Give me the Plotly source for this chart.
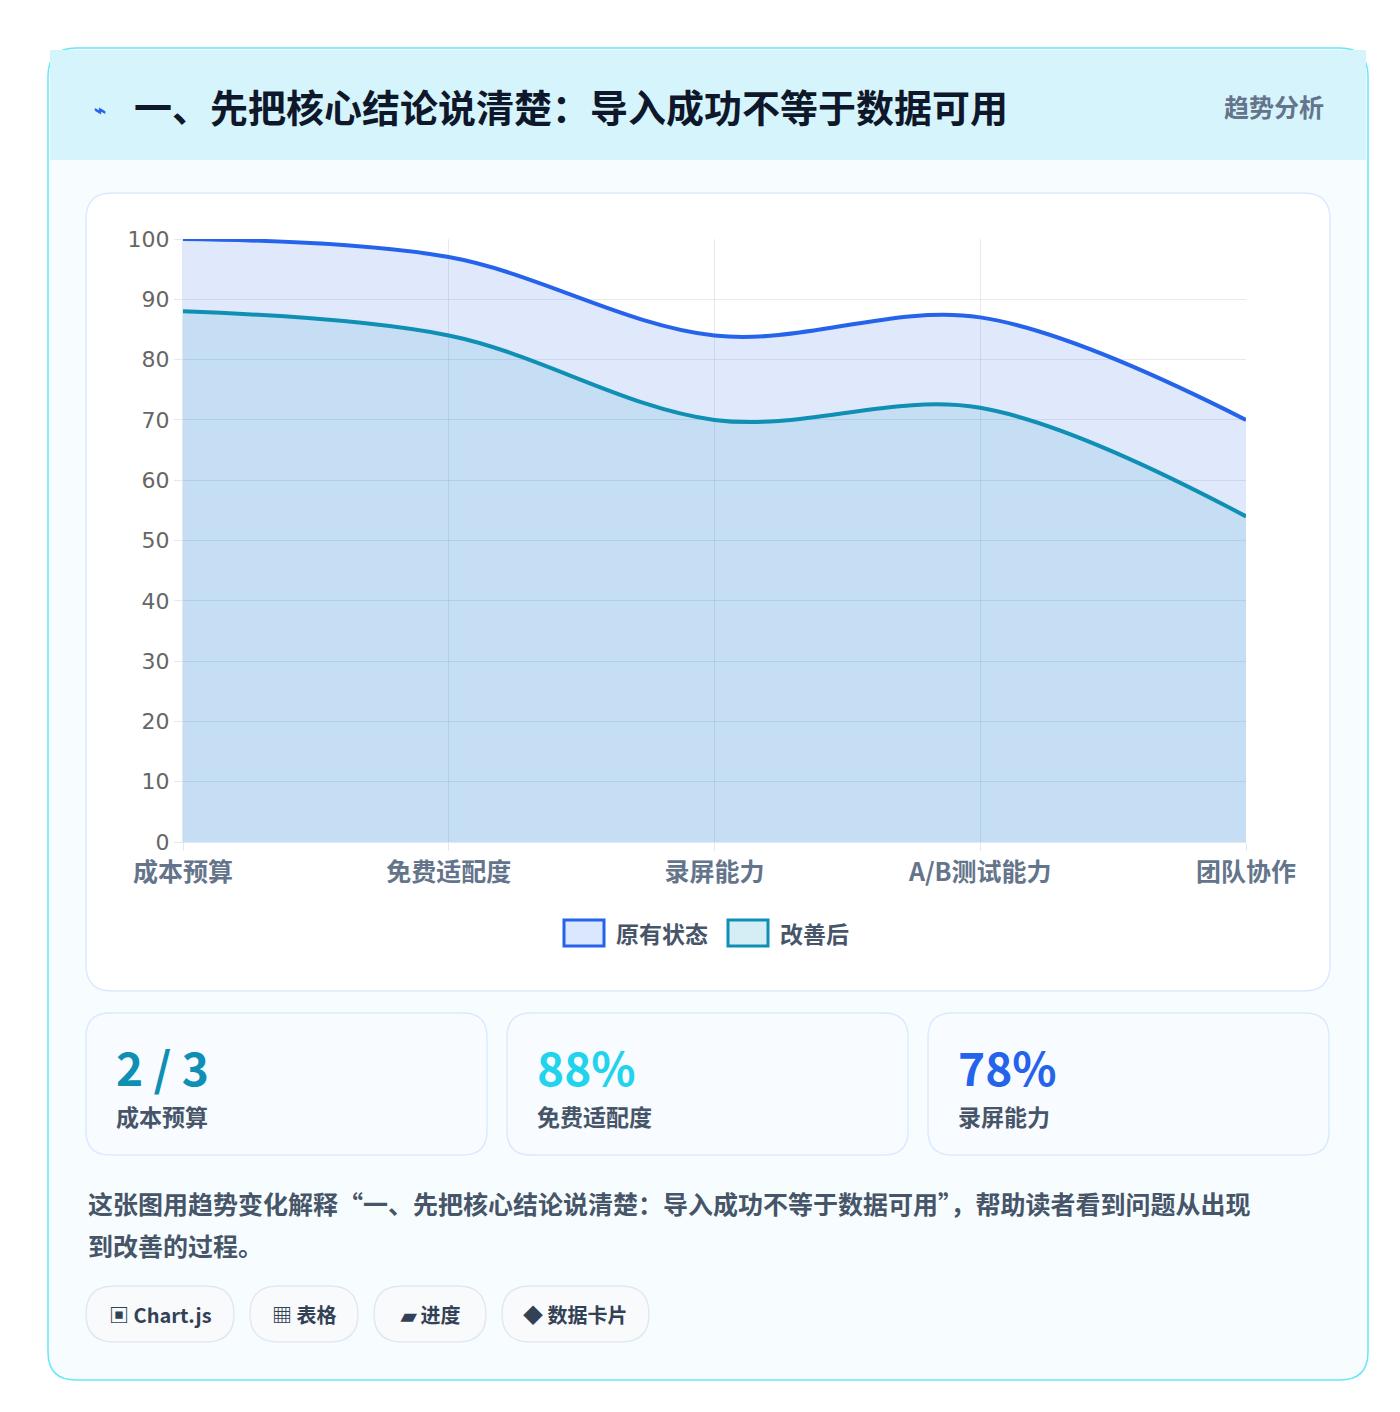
import plotly.graph_objects as go

W, H = 1400, 1412

categories = ["成本预算", "免费适配度", "录屏能力", "A/B测试能力", "团队协作"]
before = [100, 97, 84, 87, 70]
after = [88, 84, 70, 72, 54]
series_names = ["原有状态", "改善后"]

stat_values = ["2 / 3", "88%", "78%"]
stat_labels = ["成本预算", "免费适配度", "录屏能力"]
chips = ["▣ Chart.js", "▦ 表格", "▰ 进度", "◆ 数据卡片"]

title = "一、先把核心结论说清楚：导入成功不等于数据可用"
FONT = "Noto Sans CJK SC"


def px(x):
    return x / W


def py(y):
    return 1 - y / H


def rect(x0, y0, x1, y1, **kw):
    return dict(type="rect", xref="paper", yref="paper",
                x0=px(x0), x1=px(x1), y0=py(y1), y1=py(y0), **kw)


def rrect(a, t, b, btm, r, **kw):
    p = (f"M {px(a+r)} {py(t)} L {px(b-r)} {py(t)} Q {px(b)} {py(t)} {px(b)} {py(t+r)} "
         f"L {px(b)} {py(btm-r)} Q {px(b)} {py(btm)} {px(b-r)} {py(btm)} L {px(a+r)} {py(btm)} "
         f"Q {px(a)} {py(btm)} {px(a)} {py(btm-r)} L {px(a)} {py(t+r)} Q {px(a)} {py(t)} {px(a+r)} {py(t)} Z")
    return dict(type="path", xref="paper", yref="paper", path=p, **kw)


def text(x, y, s, size, color, anchor="left", bold=True):
    return dict(xref="paper", yref="paper", x=px(x), y=py(y), text=f"<b>{s}</b>" if bold else s,
                showarrow=False, xanchor=anchor, yanchor="middle",
                font=dict(family=FONT, size=size, color=color))


fig = go.Figure()
fig.add_trace(go.Scatter(x=categories, y=before, mode="lines", line=dict(color="#2563eb", width=4, shape="spline"),
                         fill="tozeroy", fillcolor="rgba(37,99,235,0.14)", name=series_names[0]))
fig.add_trace(go.Scatter(x=categories, y=after, mode="lines", line=dict(color="#0e8fb3", width=4, shape="spline"),
                         fill="tozeroy", fillcolor="rgba(8,145,178,0.12)", name=series_names[1]))

shapes = [
    rrect(40, 40, 1360, 1372, 28, line=dict(color="#67e8f9", width=1.5), fillcolor="#f7fdff", layer="below"),
    rect(42, 42, 1358, 152, line=dict(width=0), fillcolor="#d6f4fc", layer="below"),
    rrect(78, 185, 1322, 983, 26, line=dict(color="#dbeafe", width=1.5), fillcolor="white", layer="below"),
]
for i in range(3):
    x0 = 78 + i * 421
    shapes.append(rrect(x0, 1005, x0 + 401, 1147, 24, line=dict(color="#dbeafe", width=1.5),
                        fillcolor="#f8fbff", layer="below"))
chip_x = [(78, 226), (242, 350), (366, 478), (494, 641)]
for a, b in chip_x:
    shapes.append(rrect(a, 1278, b, 1334, 28, line=dict(color="#e2e8f0", width=1.5),
                        fillcolor="#f8fafc", layer="below"))
shapes.append(rect(556, 912, 596, 938, line=dict(color="#2563eb", width=3), fillcolor="#dbe7fd"))
shapes.append(rect(720, 912, 760, 938, line=dict(color="#0e8fb3", width=3), fillcolor="#d5eef5"))

ann = [
    text(84, 100, "⌁", 20, "#2563eb"),
    text(124, 98, title, 38, "#0f172a"),
    text(1318, 98, "趋势分析", 25, "#64748b", anchor="right"),
    text(606, 925, series_names[0], 23, "#475569"),
    text(770, 925, series_names[1], 23, "#475569"),
]
stat_colors = ["#0e8fb3", "#22d3ee", "#2563eb"]
for i in range(3):
    x0 = 106 + i * 421
    ann.append(text(x0, 1058, stat_values[i], 46, stat_colors[i]))
    ann.append(text(x0, 1108, stat_labels[i], 23, "#475569"))
ann.append(text(78, 1195, "这张图用趋势变化解释“一、先把核心结论说清楚：导入成功不等于数据可用”，帮助读者看到问题从出现", 25, "#475569"))
ann.append(text(78, 1237, "到改善的过程。", 25, "#475569"))
for (a, b), c in zip(chip_x, chips):
    ann.append(text((a + b) / 2, 1306, c, 20, "#334155", anchor="center"))

fig.update_layout(
    width=W, height=H, margin=dict(l=0, r=0, t=0, b=0, autoexpand=False),
    paper_bgcolor="white", plot_bgcolor="rgba(0,0,0,0)", showlegend=False,
    shapes=shapes, annotations=ann,
    xaxis=dict(domain=[px(175), px(1238)], range=[0, 4], type="category", showgrid=True, automargin=False,
               gridcolor="rgba(100,116,139,0.15)", ticks="outside", ticklen=8, tickcolor="#e2e8f0",
               tickfont=dict(family=FONT, size=25, color="#64748b"), showline=True, linecolor="#e2e8f0",
               zeroline=False, layer="above traces"),
    yaxis=dict(domain=[py(834), py(231)], range=[0, 100], dtick=10, showgrid=True, automargin=False,
               gridcolor="rgba(100,116,139,0.15)", layer="above traces",
               ticks="outside", ticklen=8, tickcolor="#e2e8f0", zeroline=False,
               tickfont=dict(family="DejaVu Sans", size=22, color="#666666"), showline=True, linecolor="#e2e8f0"),
)
fig.update_xaxes(tickvals=categories, ticktext=[f"<b>{c}</b>" for c in categories])

fig.write_html("out.html")
